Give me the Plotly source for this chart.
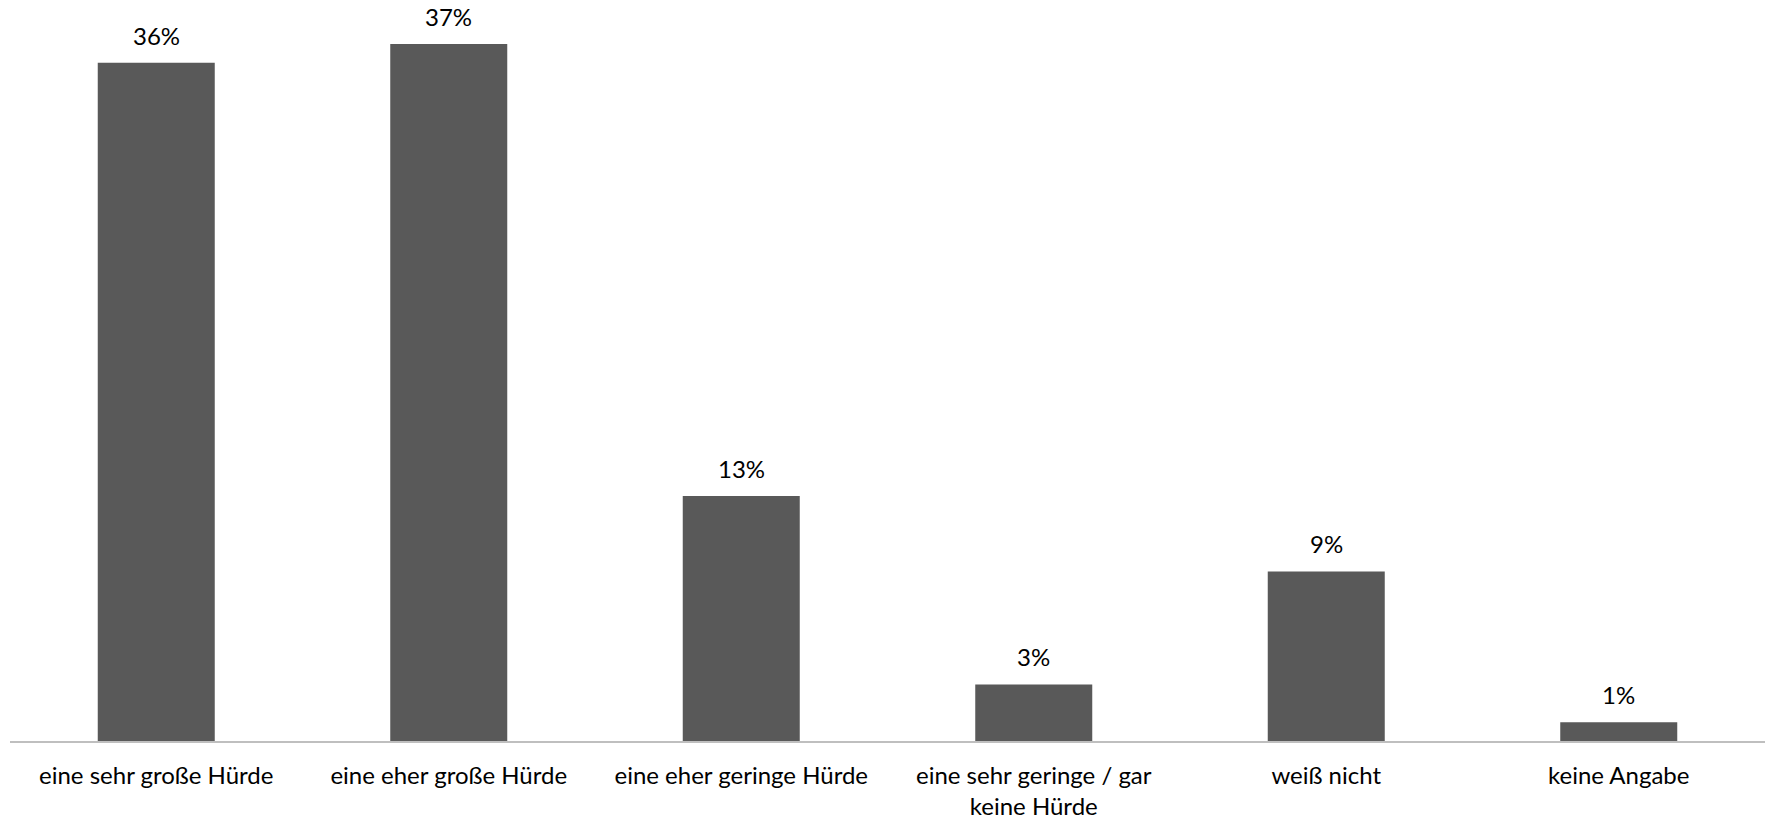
import plotly.graph_objects as go

categories = [
    "eine sehr große Hürde",
    "eine eher große Hürde",
    "eine eher geringe Hürde",
    "eine sehr geringe / gar<br>keine Hürde",
    "weiß nicht",
    "keine Angabe",
]
values = [36, 37, 13, 3, 9, 1]
labels = [f"{v}%" for v in values]

FONT = "Lato"
BAR_COLOR = "#595959"
TEXT_SIZE = 24

fig = go.Figure(
    go.Bar(
        x=categories,
        y=values,
        marker=dict(color=BAR_COLOR, line=dict(width=0)),
        hoverinfo="skip",
    )
)

# value labels above each bar
for cat, v, lab in zip(categories, values, labels):
    fig.add_annotation(
        x=cat, y=v, text=lab, showarrow=False,
        xanchor="center", yanchor="bottom", yshift=11,
        font=dict(family=FONT, size=TEXT_SIZE, color="#000000"),
    )

fig.update_layout(
    width=1769,
    height=819,
    margin=dict(l=10, r=4, t=10, b=78),
    paper_bgcolor="white",
    plot_bgcolor="white",
    bargap=0.6,
    showlegend=False,
    font=dict(family=FONT, size=TEXT_SIZE, color="#000000"),
    xaxis=dict(
        showline=True,
        linecolor="#bfbfbf",
        linewidth=2,
        ticks="",
        showgrid=False,
        zeroline=False,
        automargin=False,
        tickfont=dict(family=FONT, size=TEXT_SIZE, color="#000000"),
        ticklabelstandoff=12,
    ),
    yaxis=dict(visible=False, range=[0, 38.8], showgrid=False, zeroline=False),
)

fig.write_html("out.html")
